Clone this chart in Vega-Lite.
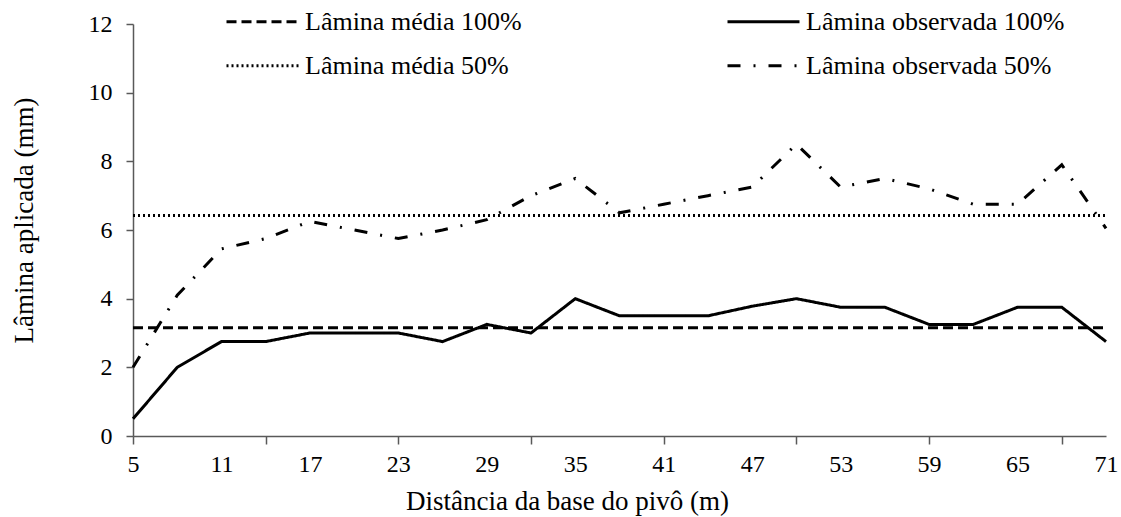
{
  "$schema": "https://vega.github.io/schema/vega-lite/v6.json",
  "autosize": "none",
  "width": 973,
  "height": 412,
  "padding": {"left": 133, "top": 24, "right": 15, "bottom": 81},
  "background": "white",
  "config": {
    "view": {"stroke": null},
    "font": "Liberation Serif"
  },
  "data": {
    "values": [
      {"x": 5, "series": "Lâmina média 100%", "v": 3.15},
      {"x": 71, "series": "Lâmina média 100%", "v": 3.15},
      {"x": 5, "series": "Lâmina média 50%", "v": 6.42},
      {"x": 71, "series": "Lâmina média 50%", "v": 6.42},
      {"x": 5, "series": "Lâmina observada 100%", "v": 0.5},
      {"x": 8, "series": "Lâmina observada 100%", "v": 2.0},
      {"x": 11, "series": "Lâmina observada 100%", "v": 2.75},
      {"x": 14, "series": "Lâmina observada 100%", "v": 2.75},
      {"x": 17, "series": "Lâmina observada 100%", "v": 3.0},
      {"x": 20, "series": "Lâmina observada 100%", "v": 3.0},
      {"x": 23, "series": "Lâmina observada 100%", "v": 3.0},
      {"x": 26, "series": "Lâmina observada 100%", "v": 2.75},
      {"x": 29, "series": "Lâmina observada 100%", "v": 3.25},
      {"x": 32, "series": "Lâmina observada 100%", "v": 3.0},
      {"x": 35, "series": "Lâmina observada 100%", "v": 4.0},
      {"x": 38, "series": "Lâmina observada 100%", "v": 3.5},
      {"x": 41, "series": "Lâmina observada 100%", "v": 3.5},
      {"x": 44, "series": "Lâmina observada 100%", "v": 3.5},
      {"x": 47, "series": "Lâmina observada 100%", "v": 3.78},
      {"x": 50, "series": "Lâmina observada 100%", "v": 4.0},
      {"x": 53, "series": "Lâmina observada 100%", "v": 3.75},
      {"x": 56, "series": "Lâmina observada 100%", "v": 3.75},
      {"x": 59, "series": "Lâmina observada 100%", "v": 3.25},
      {"x": 62, "series": "Lâmina observada 100%", "v": 3.25},
      {"x": 65, "series": "Lâmina observada 100%", "v": 3.75},
      {"x": 68, "series": "Lâmina observada 100%", "v": 3.75},
      {"x": 71, "series": "Lâmina observada 100%", "v": 2.75},
      {"x": 5, "series": "Lâmina observada 50%", "v": 2.0},
      {"x": 8, "series": "Lâmina observada 50%", "v": 4.1},
      {"x": 11, "series": "Lâmina observada 50%", "v": 5.45},
      {"x": 14, "series": "Lâmina observada 50%", "v": 5.75},
      {"x": 17, "series": "Lâmina observada 50%", "v": 6.25},
      {"x": 20, "series": "Lâmina observada 50%", "v": 6.0},
      {"x": 23, "series": "Lâmina observada 50%", "v": 5.75},
      {"x": 26, "series": "Lâmina observada 50%", "v": 6.0},
      {"x": 29, "series": "Lâmina observada 50%", "v": 6.3},
      {"x": 32, "series": "Lâmina observada 50%", "v": 7.0},
      {"x": 35, "series": "Lâmina observada 50%", "v": 7.5},
      {"x": 38, "series": "Lâmina observada 50%", "v": 6.5},
      {"x": 41, "series": "Lâmina observada 50%", "v": 6.75},
      {"x": 44, "series": "Lâmina observada 50%", "v": 7.0},
      {"x": 47, "series": "Lâmina observada 50%", "v": 7.25},
      {"x": 50, "series": "Lâmina observada 50%", "v": 8.5},
      {"x": 53, "series": "Lâmina observada 50%", "v": 7.25},
      {"x": 56, "series": "Lâmina observada 50%", "v": 7.5},
      {"x": 59, "series": "Lâmina observada 50%", "v": 7.2},
      {"x": 62, "series": "Lâmina observada 50%", "v": 6.75},
      {"x": 65, "series": "Lâmina observada 50%", "v": 6.75},
      {"x": 68, "series": "Lâmina observada 50%", "v": 7.9},
      {"x": 71, "series": "Lâmina observada 50%", "v": 6.05}
    ]
  },
  "encoding": {
    "x": {
      "field": "x",
      "type": "quantitative",
      "scale": {"domain": [5, 71], "nice": false, "zero": false},
      "axis": {
        "title": "Distância da base do pivô (m)",
        "values": [5, 8, 11, 14, 17, 20, 23, 26, 29, 32, 35, 38, 41, 44, 47, 50, 53, 56, 59, 62, 65, 68, 71],
        "labelExpr": "(datum.value - 5) % 6 === 0 ? datum.label : ''",
        "tickOpacity": {"condition": {"test": "(datum.value - 5) % 9 === 0", "value": 1}, "value": 0},
        "labelOverlap": false,
        "labelFlush": false,
        "grid": false,
        "domainColor": "#595959",
        "domainWidth": 1.5,
        "tickColor": "#595959",
        "tickWidth": 1.5,
        "tickSize": 8,
        "labelFont": "Liberation Serif",
        "labelFontSize": 24,
        "labelColor": "black",
        "labelPadding": 8,
        "titleFont": "Liberation Serif",
        "titleFontSize": 27,
        "titleFontWeight": "normal",
        "titleColor": "black",
        "titleX": 434,
        "titleY": 65,
        "titleAlign": "center",
        "titleBaseline": "middle"
      }
    },
    "y": {
      "field": "v",
      "type": "quantitative",
      "scale": {"domain": [0, 12], "nice": false},
      "axis": {
        "title": "Lâmina aplicada (mm)",
        "values": [0, 2, 4, 6, 8, 10, 12],
        "grid": false,
        "domainColor": "#595959",
        "domainWidth": 1.5,
        "tickColor": "#595959",
        "tickWidth": 1.5,
        "tickSize": 7,
        "labelFont": "Liberation Serif",
        "labelFontSize": 24,
        "labelColor": "black",
        "labelPadding": 14,
        "titleFont": "Liberation Serif",
        "titleFontSize": 27,
        "titleFontWeight": "normal",
        "titleColor": "black",
        "titleX": -109,
        "titleY": 196,
        "titleAngle": -90,
        "titleAlign": "center",
        "titleBaseline": "middle"
      }
    },
    "detail": {"field": "series"}
  },
  "layer": [
    {
      "transform": [{"filter": {"field": "series", "oneOf": ["Lâmina média 100%", "Lâmina observada 100%"]}}],
      "mark": {"type": "line", "color": "black", "strokeWidth": 3, "clip": false},
      "encoding": {
        "strokeDash": {
          "field": "series",
          "type": "nominal",
          "scale": {
            "domain": ["Lâmina média 100%", "Lâmina observada 100%"],
            "range": [[10, 5], [1, 0]]
          },
          "legend": {
            "title": null,
            "orient": "none",
            "legendX": 92,
            "legendY": -40,
            "columns": 2,
            "direction": "horizontal",
            "symbolType": "stroke",
            "symbolSize": 5184,
            "symbolStrokeWidth": 3,
            "symbolStrokeColor": "black",
            "labelFont": "Liberation Serif",
            "labelFontSize": 26,
            "labelColor": "black",
            "labelOffset": 5,
            "labelLimit": 400,
            "columnPadding": 199
          }
        }
      }
    },
    {
      "transform": [{"filter": {"field": "series", "oneOf": ["Lâmina média 50%", "Lâmina observada 50%"]}}],
      "mark": {"type": "line", "color": "black", "strokeWidth": 3, "clip": false},
      "encoding": {
        "strokeDash": {
          "field": "series",
          "type": "nominal",
          "scale": {
            "domain": ["Lâmina média 50%", "Lâmina observada 50%"],
            "range": [[2, 3], [13, 13, 2, 13]]
          },
          "legend": {
            "title": null,
            "orient": "none",
            "legendX": 92,
            "legendY": 4,
            "columns": 2,
            "direction": "horizontal",
            "symbolType": "stroke",
            "symbolSize": 5184,
            "symbolStrokeWidth": 3,
            "symbolStrokeColor": "black",
            "labelFont": "Liberation Serif",
            "labelFontSize": 26,
            "labelColor": "black",
            "labelOffset": 5,
            "labelLimit": 400,
            "columnPadding": 212
          }
        }
      }
    }
  ],
  "resolve": {"scale": {"strokeDash": "independent"}, "legend": {"strokeDash": "independent"}}
}
